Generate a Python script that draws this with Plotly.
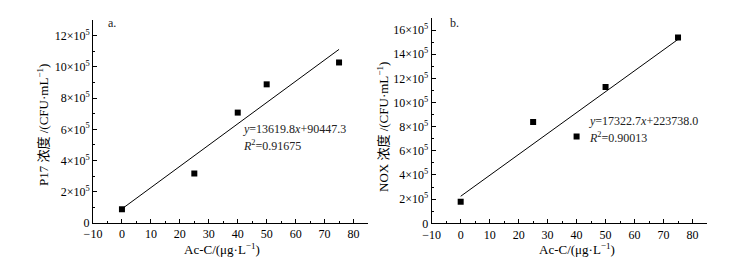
import plotly.graph_objects as go

# Data
ac_c = [0, 25, 40, 50, 75]
p17 = [0.88e5, 3.17e5, 7.07e5, 8.88e5, 10.28e5]
nox = [1.78e5, 8.38e5, 7.18e5, 11.28e5, 15.39e5]
fit_x = [0, 75]
p17_slope, p17_intercept, p17_r2 = 13619.8, 90447.3, 0.91675
nox_slope, nox_intercept, nox_r2 = 17322.7, 223738.0, 0.90013

x_ticks = list(range(-10, 81, 10))
p17_yticks = [0, 2e5, 4e5, 6e5, 8e5, 10e5, 12e5]
nox_yticks = [0, 2e5, 4e5, 6e5, 8e5, 10e5, 12e5, 14e5, 16e5]

x_title = "Ac-C/(μg·L<sup>−1</sup>)"
p17_title = "P17 浓度 /(CFU·mL<sup>−1</sup>)"
nox_title = "NOX 浓度 /(CFU·mL<sup>−1</sup>)"


def tick_text(v):
    if v == 0:
        return "0"
    return f"{int(round(v / 1e5))}×10<sup>5</sup>"


FONT = "Liberation Serif, Times New Roman, Noto Sans CJK SC, serif"

# page body has an 8px margin: work in screen pixels and shift
W, H, OFF = 726, 251, 8


def px(s):
    return (s - OFF) / W


def py(s):
    return 1 - (s - OFF) / H


fig = go.Figure()

for i, (ys, slope, intercept) in enumerate(
        [(p17, p17_slope, p17_intercept), (nox, nox_slope, nox_intercept)]):
    ax = "" if i == 0 else "2"
    fig.add_trace(go.Scatter(
        x=fit_x, y=[slope * x + intercept for x in fit_x], mode="lines",
        line=dict(color="black", width=1), xaxis="x" + ax, yaxis="y" + ax,
        showlegend=False, hoverinfo="skip"))
    fig.add_trace(go.Scatter(
        x=ac_c, y=ys, mode="markers",
        marker=dict(symbol="square", size=6, color="black"),
        xaxis="x" + ax, yaxis="y" + ax, showlegend=False))

common_x = dict(
    range=[-10, 85], tickmode="array", tickvals=x_ticks, automargin=False,
    ticks="inside", ticklen=4, tickwidth=1, tickcolor="black",
    showline=True, linecolor="black", linewidth=1, showgrid=False, zeroline=False,
    minor=dict(ticks="inside", ticklen=2, tickmode="linear", tick0=-10, dtick=5,
               tickcolor="black", showgrid=False),
    tickfont=dict(family=FONT, size=12, color="black"),
)

common_y = dict(
    tickmode="array", automargin=False,
    ticks="inside", ticklen=4, tickwidth=1, tickcolor="black",
    showline=True, linecolor="black", linewidth=1, showgrid=False, zeroline=False,
    minor=dict(ticks="inside", ticklen=2, tickmode="linear", tick0=0, dtick=1e5,
               tickcolor="black", showgrid=False),
    tickfont=dict(family=FONT, size=12, color="black"),
)

fig.update_layout(
    width=W, height=H,
    margin=dict(l=0, r=0, t=0, b=0),
    paper_bgcolor="white", plot_bgcolor="white",
    font=dict(family=FONT, color="black"),
    xaxis=dict(common_x, domain=[px(93), px(368)], anchor="y"),
    yaxis=dict(common_y, domain=[py(223), py(20)], anchor="x", range=[0, 13e5],
               tickvals=p17_yticks, ticktext=[tick_text(v) for v in p17_yticks]),
    xaxis2=dict(common_x, domain=[px(431.7), px(707)], anchor="y2"),
    yaxis2=dict(common_y, domain=[py(223.3), py(18)], anchor="x2", range=[0, 17e5],
                tickvals=nox_yticks, ticktext=[tick_text(v) for v in nox_yticks]),
)

title_font = dict(family=FONT, size=13, color="black")
for x, y, text, angle in [(222, 249, x_title, 0), (577, 249, x_title, 0),
                          (43, 125, p17_title, -90), (383, 127, nox_title, -90)]:
    fig.add_annotation(x=px(x), y=py(y), xref="paper", yref="paper", text=text,
                       showarrow=False, xanchor="center", yanchor="middle",
                       textangle=angle, font=title_font)

ann_font = dict(family=FONT, size=12, color="#222")
fig.add_annotation(x=px(106), y=py(23), xref="paper", yref="paper",
                   text="a.", showarrow=False, xanchor="left", yanchor="middle",
                   font=ann_font)
fig.add_annotation(x=px(448), y=py(23), xref="paper", yref="paper",
                   text="b.", showarrow=False, xanchor="left", yanchor="middle",
                   font=ann_font)
fig.add_annotation(x=px(241), y=py(129), xref="paper", yref="paper",
                   text=f"<i>y</i>={p17_slope}<i>x</i>+{p17_intercept}",
                   showarrow=False, xanchor="left", yanchor="middle", font=ann_font)
fig.add_annotation(x=px(241), y=py(145), xref="paper", yref="paper",
                   text=f"<i>R</i><sup>2</sup>={p17_r2}",
                   showarrow=False, xanchor="left", yanchor="middle", font=ann_font)
fig.add_annotation(x=px(587), y=py(121), xref="paper", yref="paper",
                   text=f"<i>y</i>={nox_slope}<i>x</i>+{nox_intercept:.1f}",
                   showarrow=False, xanchor="left", yanchor="middle", font=ann_font)
fig.add_annotation(x=px(587), y=py(137), xref="paper", yref="paper",
                   text=f"<i>R</i><sup>2</sup>={nox_r2:.5f}",
                   showarrow=False, xanchor="left", yanchor="middle", font=ann_font)

fig.write_html("out.html")
